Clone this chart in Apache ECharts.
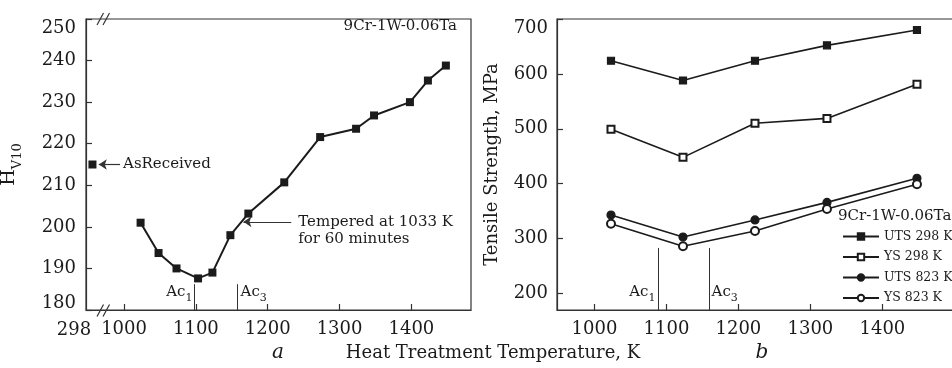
<!DOCTYPE html>
<html>
<head>
<meta charset="utf-8">
<script src="https://cdn.jsdelivr.net/npm/echarts@6/dist/echarts.min.js"></script>
<style>
  html, body { margin: 0; padding: 0; background: #fff; }
  #chart { width: 952px; height: 368px; }
</style>
</head>
<body>
<div id="chart"></div>
<script>
// (a) hardness after tempering
const tempA = [1023, 1048, 1073, 1103, 1123, 1148, 1173, 1223, 1273, 1323, 1348, 1398, 1423, 1448];
const hardness = [201, 193.7, 190, 187.6, 189, 198, 203.2, 210.7, 221.6, 223.6, 226.8, 230, 235.2, 238.8];
const asReceivedTemp = 298;
const asReceivedHv = 215;
const acA = [1098, 1158];

// (b) tensile strength
const tempB = [1023, 1123, 1223, 1323, 1448];
const uts298 = [624, 588, 624, 652, 680];
const ys298 = [499, 448, 510, 519, 581];
const uts823 = [343, 303, 334, 366, 410];
const ys823 = [327, 286, 314, 354, 399];
const acB = [1089, 1160];

const xTicks = [1000, 1100, 1200, 1300, 1400];
const yTicksB = [200, 300, 400, 500, 600, 700];
const legendNames = ["UTS 298 K", "YS 298 K", "UTS 823 K", "YS 823 K"];

// the 298 K point sits left of the axis break
const breakSlot = 956;

const FONT = "DejaVu Serif";
const INK = "#1b1b1b";
const AXIS = "#333";

const gridA = { left: 86, top: 19, width: 385, height: 291 };
const gridB = { left: 557, top: 19, width: 401, height: 291 };

const zip = (xs, ys) => xs.map((x, i) => [x, ys[i]]);

function edgeFmt(top, bottom) {
  return (v) => (v === top ? "{t|" + v + "}" : v === bottom ? "{b|" + v + "}" : String(v));
}

const labelStyle = {
  color: INK,
  fontFamily: FONT,
  fontSize: 18,
  rich: {
    t: { fontFamily: FONT, fontSize: 18, color: INK, padding: [18, 0, 0, 0] },
    b: { fontFamily: FONT, fontSize: 18, color: INK, padding: [0, 0, 14, 0] },
  },
};

function xAxis(gridIndex, min, max) {
  return {
    gridIndex,
    type: "value",
    min,
    max,
    axisLine: { lineStyle: { color: AXIS, width: 1.2 } },
    axisTick: { inside: true, length: 6, customValues: xTicks, lineStyle: { color: AXIS, width: 1.2 } },
    axisLabel: { ...labelStyle, margin: 10, customValues: xTicks, formatter: (v) => String(v) },
    splitLine: { show: false },
  };
}

const lineB = (name, data, symbol, size) => ({
  name,
  type: "line",
  xAxisIndex: 1,
  yAxisIndex: 1,
  data: zip(tempB, data),
  symbol,
  symbolSize: size,
  showAllSymbol: true,
  color: INK,
  lineStyle: { color: INK, width: 1.6 },
  itemStyle: { color: INK, borderColor: INK, borderWidth: 1.2 },
});

const acLine = (x, y0, y1) => [{ coord: [x, y0] }, { coord: [x, y1] }];

const option = {
  animation: false,
  backgroundColor: "#fff",
  grid: [
    { ...gridA, show: true, borderColor: AXIS, borderWidth: 1.2, outerBoundsMode: "none" },
    { ...gridB, show: true, borderColor: AXIS, borderWidth: 1.2, outerBoundsMode: "none" },
  ],
  xAxis: [xAxis(0, 947, 1483), xAxis(1, 948, 1505)],
  yAxis: [
    {
      gridIndex: 0,
      type: "value",
      min: 180,
      max: 250,
      interval: 10,
      name: "{h|H}{s|V10}",
      nameLocation: "middle",
      nameGap: 62,
      nameTextStyle: {
        rich: {
          h: { fontFamily: FONT, fontSize: 19, color: INK, verticalAlign: "bottom", padding: [0, 0, 5, 0] },
          s: { fontFamily: FONT, fontSize: 13, color: INK, verticalAlign: "bottom" },
        },
      },
      axisLine: { lineStyle: { color: AXIS, width: 1.2 } },
      axisTick: { inside: true, length: 6, lineStyle: { color: AXIS, width: 1.2 } },
      axisLabel: { ...labelStyle, margin: 10, formatter: edgeFmt(250, 180) },
      splitLine: { show: false },
    },
    {
      gridIndex: 1,
      type: "value",
      min: 170,
      max: 700,
      name: "Tensile Strength, MPa",
      nameLocation: "middle",
      nameGap: 56,
      nameTextStyle: { fontFamily: FONT, fontSize: 18, color: INK },
      axisLine: { lineStyle: { color: AXIS, width: 1.2 } },
      axisTick: { inside: true, length: 6, customValues: yTicksB, lineStyle: { color: AXIS, width: 1.2 } },
      axisLabel: { ...labelStyle, margin: 9, customValues: yTicksB, formatter: edgeFmt(700, null) },
      splitLine: { show: false },
    },
  ],
  legend: {
    data: legendNames,
    orient: "vertical",
    left: 837,
    top: 225,
    itemWidth: 36,
    itemHeight: 8,
    itemGap: 7.5,
    textStyle: { fontFamily: FONT, fontSize: 12.5, color: INK },
  },
  series: [
    {
      name: "Hv",
      type: "line",
      data: zip(tempA, hardness),
      symbol: "rect",
      symbolSize: 8,
      color: INK,
      lineStyle: { color: INK, width: 2 },
      itemStyle: { color: INK },
      markLine: {
        silent: true,
        animation: false,
        symbol: "none",
        label: { show: false },
        lineStyle: { color: AXIS, width: 1, type: "solid" },
        data: acA.map((x) => acLine(x, 180, 186.2)),
      },
    },
    {
      name: "as received " + asReceivedTemp + " K",
      type: "scatter",
      data: [[breakSlot, asReceivedHv]],
      symbol: "rect",
      symbolSize: 8,
      itemStyle: { color: INK, opacity: 1 },
      markLine: {
        silent: true,
        animation: false,
        symbol: ["none", "arrow"],
        symbolSize: 8,
        label: { show: false },
        lineStyle: { color: AXIS, width: 1.2, type: "solid" },
        data: [
          [{ coord: [994.4, asReceivedHv] }, { coord: [964.8, asReceivedHv] }],
          [{ coord: [1232.7, 201.2] }, { coord: [1166.2, 201.2] }],
        ],
      },
    },
    {
      ...lineB(legendNames[0], uts298, "rect", 7),
      markLine: {
        silent: true,
        animation: false,
        symbol: "none",
        label: { show: false },
        lineStyle: { color: AXIS, width: 1, type: "solid" },
        data: acB.map((x) => acLine(x, 170, 283)),
      },
    },
    lineB(legendNames[1], ys298, "emptyRect", 7),
    lineB(legendNames[2], uts823, "circle", 8),
    lineB(legendNames[3], ys823, "emptyCircle", 8),
  ],
};

const chart = echarts.init(document.getElementById("chart"), null, { renderer: "canvas" });
chart.setOption(option);

const px = (g, v) => chart.convertToPixel({ gridIndex: g }, v);

const txt = (x, y, text, extra) => ({
  type: "text",
  x,
  y,
  silent: true,
  style: {
    text,
    fill: INK,
    fontFamily: FONT,
    fontSize: 15,
    align: "left",
    verticalAlign: "middle",
    ...extra,
  },
});

const subRich = {
  m: { fontFamily: FONT, fontSize: 15, fill: INK, color: INK, verticalAlign: "bottom", padding: [0, 0, 4, 0] },
  s: { fontFamily: FONT, fontSize: 11, fill: INK, color: INK, verticalAlign: "bottom" },
};
const acText = (n) => "{m|Ac}{s|" + n + "}";

const slash = (x, yBottom) => [0, 6].map((dx) => ({
  type: "line",
  silent: true,
  shape: { x1: x + dx, y1: yBottom, x2: x + dx + 6.5, y2: yBottom - 12 },
  style: { stroke: AXIS, lineWidth: 1.2 },
}));

const gBottom = gridA.top + gridA.height;
const ac1a = px(0, [acA[0], 180]);
const ac3a = px(0, [acA[1], 180]);
const ac1b = px(1, [acB[0], 170]);
const ac3b = px(1, [acB[1], 170]);
const asRec = px(0, [994.4, asReceivedHv]);
const temp = px(0, [1232.7, 201.2]);

chart.setOption({
  graphic: [
    txt(gridA.left + gridA.width - 14, 26, "9Cr-1W-0.06Ta", { align: "right" }),
    txt(asRec[0] + 3, asRec[1], "AsReceived"),
    txt(temp[0] + 7, temp[1], "Tempered at 1033 K", {}),
    txt(temp[0] + 7, temp[1] + 17.6, "for 60 minutes", {}),
    txt(ac1a[0] - 2, ac1a[1] - 16, acText(1), { align: "right", rich: subRich }),
    txt(ac3a[0] + 3, ac3a[1] - 16, acText(3), { rich: subRich }),
    txt(ac1b[0] - 3, gBottom - 16, acText(1), { align: "right", rich: subRich }),
    txt(ac3b[0] + 2, gBottom - 16, acText(3), { rich: subRich }),
    txt(gridB.left + 281, 216, "9Cr-1W-0.06Ta"),
    txt(gridA.left - 12, 330, String(asReceivedTemp), { align: "center", fontSize: 18 }),
    txt(493, 353, "Heat Treatment Temperature, K", { align: "center", fontSize: 18 }),
    txt(278, 353, "a", { align: "center", fontSize: 20, fontStyle: "italic" }),
    txt(762, 353, "b", { align: "center", fontSize: 20, fontStyle: "italic" }),
    ...slash(gridA.left + 11, gridA.top + 6),
    ...slash(gridA.left + 11, gBottom + 6.5),
  ],
});
</script>
</body>
</html>
